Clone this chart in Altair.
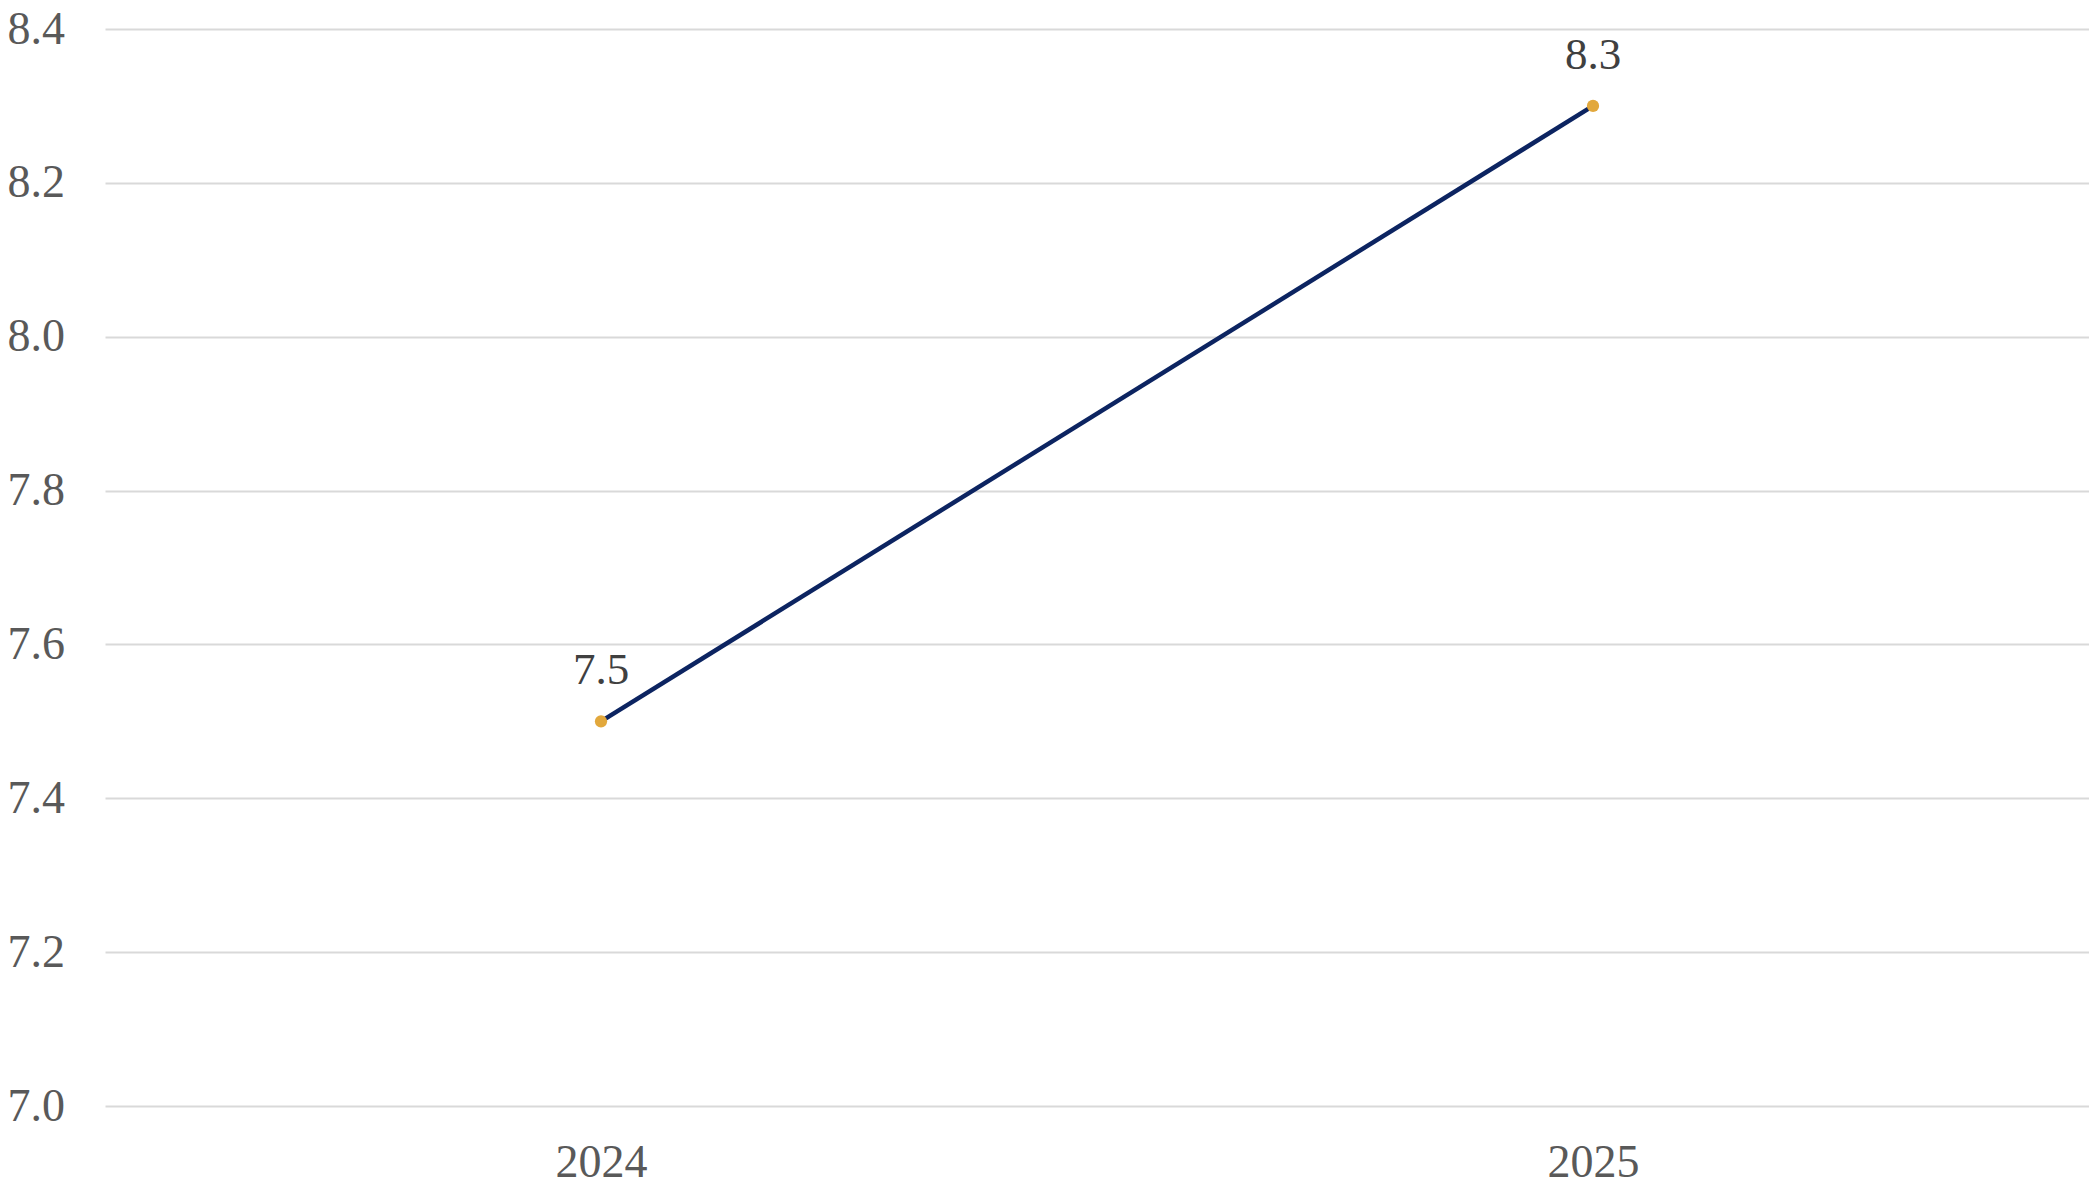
import altair as alt
import pandas as pd

years = ["2024", "2025"]
values = [7.5, 8.3]
y_ticks = [7.0, 7.2, 7.4, 7.6, 7.8, 8.0, 8.2, 8.4]

df = pd.DataFrame({"year": years, "value": values})

FONT = "Liberation Serif"

base = alt.Chart(df).encode(
    x=alt.X("year:N", sort=years, title=None,
            scale=alt.Scale(paddingInner=0, paddingOuter=0),
            axis=alt.Axis(labelAngle=0, labelFont=FONT, labelFontSize=46,
                          labelColor="#595959", ticks=False, domain=False,
                          labelPadding=34, grid=False)),
    y=alt.Y("value:Q", title=None,
            scale=alt.Scale(domain=[7.0, 8.4], nice=False, zero=False),
            axis=alt.Axis(values=y_ticks, format=".1f", labelFont=FONT,
                          labelFontSize=46, labelColor="#595959", ticks=False,
                          labelAlign="left", labelBaseline="middle",
                          domain=False, labelPadding=98, gridColor="#d9d9d9",
                          gridWidth=2)),
)

line = base.mark_line(color="#0c2461", strokeWidth=4.5)
points = base.mark_circle(color="#e2a83c", size=150, opacity=1)
labels = base.mark_text(font=FONT, fontSize=45, color="#404040",
                        baseline="bottom", dy=-28).encode(
    text=alt.Text("value:Q", format=".1f"))

chart = (line + points + labels).properties(
    width=1984, height=1077,
    autosize=alt.AutoSizeParams(type="none"),
    padding={"left": 97, "top": 21, "right": 0, "bottom": 77},
).configure_view(stroke=None)

chart.save("out.html", embed_options={"renderer": "svg", "actions": False})
